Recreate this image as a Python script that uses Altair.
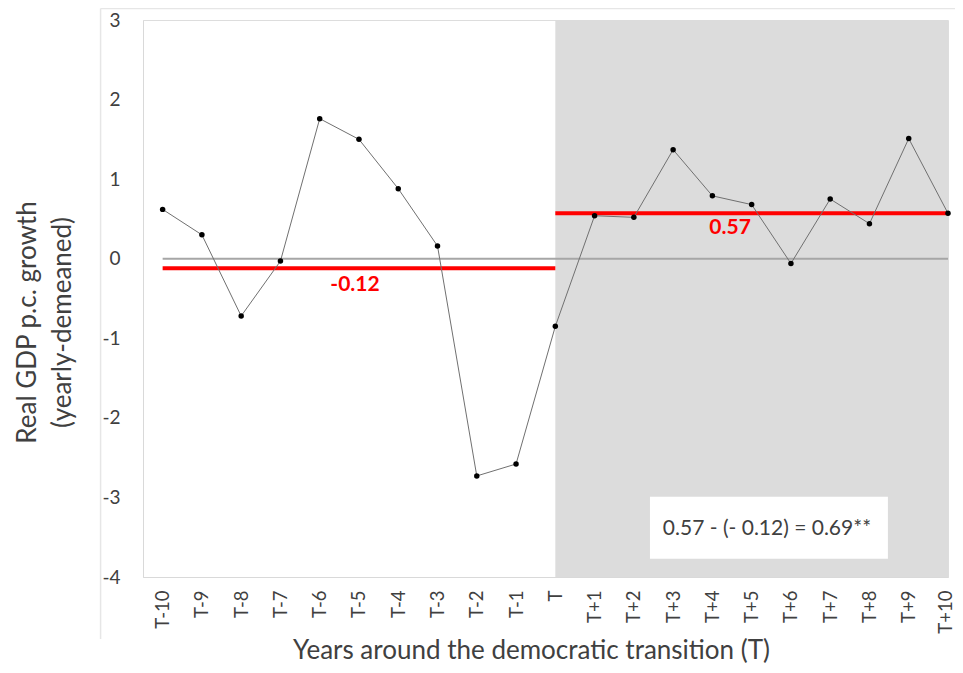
import altair as alt
import pandas as pd

# ---- data ----
year_labels = ["T-10", "T-9", "T-8", "T-7", "T-6", "T-5", "T-4", "T-3", "T-2", "T-1", "T",
               "T+1", "T+2", "T+3", "T+4", "T+5", "T+6", "T+7", "T+8", "T+9", "T+10"]
year_offsets = list(range(-10, 11))
growth = [0.62, 0.30, -0.72, -0.03, 1.76, 1.50, 0.88, 0.16, -2.73, -2.58, -0.85,
          0.54, 0.52, 1.37, 0.79, 0.68, -0.06, 0.75, 0.44, 1.51, 0.57]

y_ticks = [-4, -3, -2, -1, 0, 1, 2, 3]

mean_start = [-10, 0]
mean_end = [0, 10]
mean_values = [-0.12, 0.57]
mean_labels = ["-0.12", "0.57"]
mean_label_x = [-5.10, 4.45]
mean_label_y = [-0.33, 0.39]

box_text = "0.57 - (- 0.12) = 0.69**"
box_x = [2.41, 8.47]
box_y = [-2.99, -3.77]
box_text_pos = [5.39, -3.40]

shade_x = [0, 10]
y_domain = [-4, 3]
x_domain = [-10.5, 10]

# frame lines of the original figure (outside the plot area)
frame_left_x = -11.58
frame_top_y = 3.145
frame_bottom_y = -4.78
frame_right_x = 10.18

FONT = "Lato"
TXT = "#404040"

df = pd.DataFrame({"t": year_offsets, "label": year_labels, "g": growth})
means = pd.DataFrame({"x": mean_start, "x2": mean_end, "y": mean_values,
                      "lab": mean_labels, "lx": mean_label_x, "ly": mean_label_y})

label_js = "[" + ",".join("'" + s + "'" for s in year_labels) + "]"

xs = alt.Scale(domain=x_domain, nice=False, zero=False)
ys = alt.Scale(domain=y_domain, nice=False, zero=False)

x_axis = alt.Axis(
    values=year_offsets,
    labelExpr=label_js + "[datum.value + 10]",
    labelAngle=-90, labelFontSize=18.5, labelFont=FONT, labelColor=TXT,
    labelPadding=13,
    labelOffset={"condition": {"test": "datum.value == 10", "value": -3}, "value": 0},
    ticks=False, grid=False,
    domainColor="#d9d9d9", domainWidth=1,
    title="Years around the democratic transition (T)",
    titleFont=FONT, titleFontSize=26, titleFontWeight="normal", titleColor=TXT,
    titleX=388, titleY=81, titleBaseline="alphabetic", titleAlign="center",
)
y_axis = alt.Axis(
    values=y_ticks,
    labelExpr="'' + datum.value",
    labelFontSize=19, labelFont=FONT, labelColor=TXT, labelPadding=23,
    ticks=False, grid=False, domainColor="#d9d9d9", domainWidth=1,
    title=["Real GDP p.c. growth", "(yearly-demeaned)"],
    titleFont=FONT, titleFontSize=26, titleFontWeight="normal", titleColor=TXT,
    titleLineHeight=35, titleAngle=-90, titleAlign="center", titleBaseline="top",
    titleX=-129, titleY=302,
)

shade = alt.Chart(pd.DataFrame({"x": [shade_x[0]], "x2": [shade_x[1]],
                                "y": [y_domain[1]], "y2": [y_domain[0]]})).mark_rect(
    color="#dcdcdc").encode(
    x=alt.X("x:Q", scale=xs, axis=x_axis), x2="x2:Q",
    y=alt.Y("y:Q", scale=ys, axis=y_axis), y2="y2:Q")

zero = alt.Chart(pd.DataFrame({"x": [year_offsets[0]], "x2": [year_offsets[-1]], "y": [0]})).mark_rule(
    color="#a6a6a6", strokeWidth=2).encode(
    x=alt.X("x:Q", scale=xs), x2="x2:Q", y=alt.Y("y:Q", scale=ys))

box = alt.Chart(pd.DataFrame({"x": [box_x[0]], "x2": [box_x[1]], "y": [box_y[0]], "y2": [box_y[1]]})).mark_rect(
    color="white").encode(
    x=alt.X("x:Q", scale=xs), x2="x2:Q", y=alt.Y("y:Q", scale=ys), y2="y2:Q")

box_label = alt.Chart(pd.DataFrame({"x": [box_text_pos[0]], "y": [box_text_pos[1]], "t": [box_text]})).mark_text(
    font=FONT, fontSize=21, color=TXT, align="center", baseline="middle").encode(
    x=alt.X("x:Q", scale=xs), y=alt.Y("y:Q", scale=ys), text="t:N")

red = alt.Chart(means).mark_rule(color="#ff0000", strokeWidth=4).encode(
    x=alt.X("x:Q", scale=xs), x2="x2:Q", y=alt.Y("y:Q", scale=ys))

red_lab = alt.Chart(means).mark_text(
    font=FONT, fontSize=21, fontWeight="bold", color="#ff0000", align="center", baseline="middle").encode(
    x=alt.X("lx:Q", scale=xs), y=alt.Y("ly:Q", scale=ys), text="lab:N")

line = alt.Chart(df).mark_line(color="#707070", strokeWidth=1).encode(
    x=alt.X("t:Q", scale=xs), y=alt.Y("g:Q", scale=ys))

pts = alt.Chart(df).mark_circle(color="black", size=30, opacity=1).encode(
    x=alt.X("t:Q", scale=xs), y=alt.Y("g:Q", scale=ys))

frame_v = alt.Chart(pd.DataFrame({"x": [frame_left_x], "y": [frame_top_y], "y2": [frame_bottom_y]})).mark_rule(
    color="#e6e6e6", strokeWidth=1.5).encode(
    x=alt.X("x:Q", scale=xs), y=alt.Y("y:Q", scale=ys), y2="y2:Q")
frame_h = alt.Chart(pd.DataFrame({"x": [frame_left_x], "x2": [frame_right_x], "y": [frame_top_y]})).mark_rule(
    color="#e6e6e6", strokeWidth=1.5).encode(
    x=alt.X("x:Q", scale=xs), x2="x2:Q", y=alt.Y("y:Q", scale=ys))

chart = alt.layer(shade, frame_v, frame_h, zero, box, box_label, red, red_lab, line, pts).properties(
    width=805, height=557,
    autosize=alt.AutoSizeParams(type="none"),
    padding={"left": 135, "top": 12, "right": 7, "bottom": 86},
).configure_view(stroke=None).configure(background="white")

chart.save("out.html", embed_options={"renderer": "svg", "actions": False})
